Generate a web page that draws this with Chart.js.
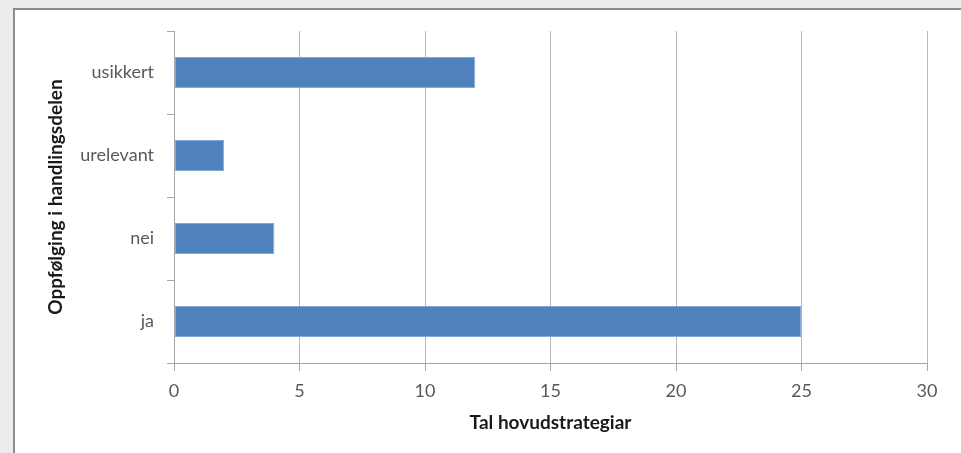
<!DOCTYPE html>
<html>
<head>
  <meta charset="utf-8">
  <style>
    html, body { margin: 0; padding: 0; background: #ececec; }
    #frame {
      position: absolute; left: 13px; top: 8px; width: 960px; height: 460px;
      background: #fff; border-top: 2px solid #8c8c8c; border-left: 2px solid #8c8c8c;
    }
    #wrap { position: absolute; left: 0; top: 0; width: 961px; height: 453px; }
  </style>
</head>
<body>

  <div id='frame'></div>
  <div id='wrap'>
    <canvas id='strategyChart' width="961" height="453"></canvas>
  </div>

<script src="https://cdn.jsdelivr.net/npm/chart.js@4.4.1/dist/chart.umd.min.js"></script>

<script>
// values
const categories = ['usikkert', 'urelevant', 'nei', 'ja'];
const counts = [12, 2, 4, 25];
const xTicks = [0, 5, 10, 15, 20, 25, 30];

const tickFont = { family: 'Lato', size: 18 };
const titleFont = { family: 'Lato', size: 19, weight: 'bold' };

const data = {
  labels: categories,
  datasets: [{
    label: 'Tal hovudstrategiar',
    data: counts,
    backgroundColor: '#4f81bd',
    borderColor: '#86aad8',
    borderWidth: 1,
    borderSkipped: false,
    barPercentage: 0.375,
    categoryPercentage: 1
  }]
};

const config = {
  type: 'bar',
  data,
  options: {
    indexAxis: 'y',
    responsive: false,
    animation: false,
    layout: { padding: { left: 14, right: 34, top: 31, bottom: 0 } },
    plugins: {
      legend: { display: false },
      tooltip: { enabled: false }
    },
    scales: {
      x: {
        min: 0,
        max: 30,
        afterBuildTicks: scale => { scale.ticks = xTicks.map(v => ({ value: v })); },
        afterFit: scale => { scale.height = 90; },
        grid: { color: '#b8b8b8', lineWidth: 1, tickLength: 8, tickColor: '#a6a6a6' },
        border: { color: '#a6a6a6' },
        ticks: { font: tickFont, color: '#595959', padding: 9 },
        title: {
          display: true,
          text: 'Tal hovudstrategiar',
          font: titleFont,
          color: '#1a1a1a',
          padding: { top: 0, bottom: 19 }
        }
      },
      y: {
        afterFit: scale => { scale.width = 160; },
        grid: { drawOnChartArea: false, offset: true, tickLength: 7, tickColor: '#a6a6a6' },
        border: { color: '#a6a6a6' },
        ticks: { font: tickFont, color: '#595959', padding: 13 },
        title: {
          display: true,
          text: 'Oppfølging i handlingsdelen',
          font: titleFont,
          color: '#1a1a1a',
          padding: { top: 30, bottom: 0 }
        }
      }
    }
  }
};

const myChart = new Chart(document.getElementById('strategyChart'), config);
</script>

</body>
</html>
